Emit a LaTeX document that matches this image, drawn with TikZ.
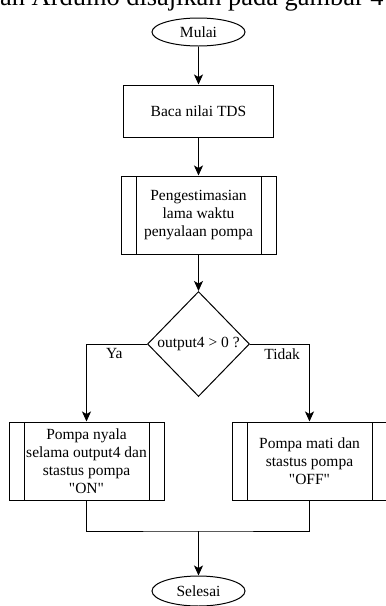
\documentclass[tikz,border=0pt]{standalone}
\usepackage{fontspec}
\setmainfont{Liberation Serif}[Ligatures=TeXOff]
\usetikzlibrary{shapes.geometric,arrows.meta}
\begin{document}
\begin{tikzpicture}[x=1pt,y=1pt,yscale=-1,
  every node/.style={font=\fontsize{15.5}{18}\selectfont},
  garis/.style={line width=1pt},
  term/.style={garis,draw,ellipse,minimum width=93pt,minimum height=28pt,inner sep=0pt},
  proses/.style={garis,draw,rectangle,minimum width=150pt,minimum height=52pt,inner sep=0pt},
  subproses/.style={garis,draw,rectangle,minimum width=155pt,minimum height=78pt,inner sep=0pt,align=center,
    path picture={
      \draw[garis] ([xshift=15pt]path picture bounding box.north west) -- ([xshift=15pt]path picture bounding box.south west);
      \draw[garis] ([xshift=-15pt]path picture bounding box.north east) -- ([xshift=-15pt]path picture bounding box.south east);
    }},
  keputusan/.style={garis,draw,diamond,minimum width=102pt,minimum height=105pt,inner sep=0pt},
  panah/.style={garis,-{Stealth[length=10pt,width=9pt,inset=2.5pt]}},
  lbl/.style={inner sep=0.75pt}]
\useasboundingbox (0,0) rectangle (386,606);

% Text Node (sisa kalimat di atas gambar)
\node (kalimat) [anchor=base west,inner sep=0pt,font=\fontsize{26.4}{30}\selectfont] at (0,5) {an Arduino disajikan pada gambar 4};

% Terminal
\node (mulai) [term] at (198.5,32) {Mulai};
% Process
\node (baca) [proses] at (198.5,111) {Baca nilai TDS};
% Predefined Process
\node (estim) [subproses] at (198.5,215) {Pengestimasian\\lama waktu\\penyalaan pompa};
% Decision
\node (cek) [keputusan] at (198.5,344) {output4 > 0 ?};
% Predefined Process
\node (nyala) [subproses] at (86.5,461) {Pompa nyala\\selama output4 dan\\stastus pompa\\"ON"};
\node (mati) [subproses] at (309.5,461) {Pompa mati dan\\stastus pompa\\"OFF"};
% Terminal
\node (selesai) [term,minimum height=30pt] at (198.5,591) {Selesai};

\coordinate (gabung) at (198.5,531);

%Straight Lines
\draw [panah] (mulai) -- (baca);
\draw [panah] (baca) -- (estim);
\draw [panah] (estim) -- (cek);
\draw [panah] (cek.west) -| node[lbl,pos=0.27,below=3pt] (ya) {Ya} (nyala.north);
\draw [panah] (cek.east) -| node[lbl,pos=0.27,below=3pt] (tidak) {Tidak} (mati.north);
\draw [garis] (nyala.south) |- (gabung) -| (mati.south);
\draw [panah] (gabung) -- (selesai);
\end{tikzpicture}
\end{document}
